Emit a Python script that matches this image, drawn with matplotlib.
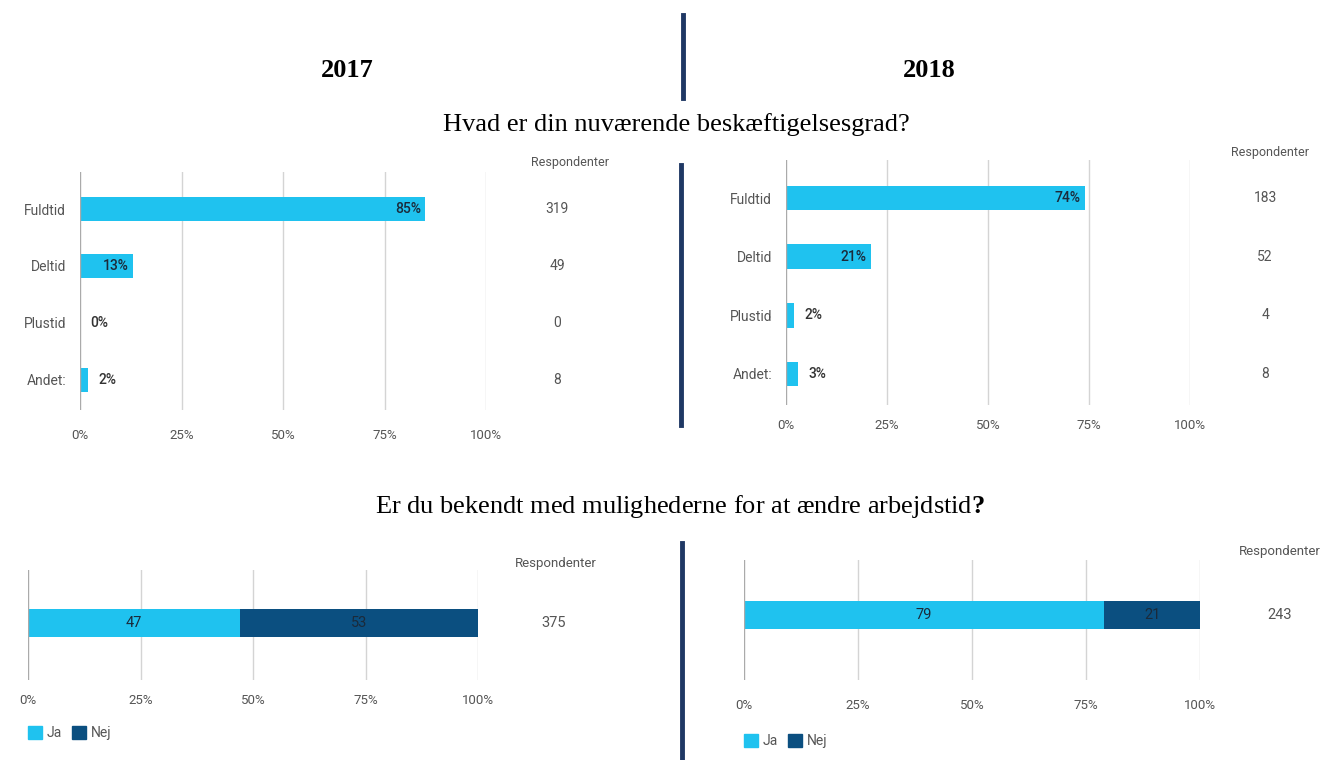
import matplotlib.pyplot as plt
from matplotlib.patches import Patch
from matplotlib.lines import Line2D

W, H = 1342, 760

categories = ['Fuldtid', 'Deltid', 'Plustid', 'Andet:']
pct_2017 = [85, 13, 0, 2]
resp_2017 = [319, 49, 0, 8]
pct_2018 = [74, 21, 2, 3]
resp_2018 = [183, 52, 4, 8]

ja_nej_labels = ['Ja', 'Nej']
ja_nej_2017 = [47, 53]
ja_nej_2018 = [79, 21]
total_2017 = 375
total_2018 = 243

light = '#1fc2ef'
dark = '#0b4f80'
navy = '#1f3864'
grid_c = '#d4d4d4'
txt_c = '#555555'

plt.rcParams['font.family'] = 'Roboto'
plt.rcParams['mathtext.fontset'] = 'custom'
plt.rcParams['mathtext.bf'] = 'Liberation Serif:bold'


def px_axes(fig, x0, y0, x1, y1):
    # pixel box (top-left origin) -> axes
    return fig.add_axes([x0 / W, 1 - y1 / H, (x1 - x0) / W, (y1 - y0) / H])


def style_axes(ax, pad):
    for s in ax.spines.values():
        s.set_visible(False)
    ax.set_xlim(0, 100)
    ax.set_xticks([0, 25, 50, 75, 100])
    ax.set_xticklabels(['0%', '25%', '50%', '75%', '100%'])
    ax.tick_params(axis='x', length=0, pad=pad, labelsize=9.5, labelcolor=txt_c)
    ax.tick_params(axis='y', length=0)
    for xv in [25, 50, 75, 100]:
        ax.axvline(xv, color=grid_c, lw=1, zorder=0)
    ax.axvline(0, color='#aaaaaa', lw=1, zorder=3)


def employment(ax, pct, resp, ylim, head_xy, count_x, pad):
    style_axes(ax, pad)
    y = list(range(len(categories)))
    ax.barh(y, pct, height=0.42, color=light, zorder=2)
    ax.set_ylim(*ylim)
    ax.set_yticks(y)
    ax.set_yticklabels(categories)
    ax.tick_params(axis='y', pad=10, labelsize=10, labelcolor=txt_c)
    for yi, p, r in zip(y, pct, resp):
        if p > 10:
            ax.text(p - 1, yi, f'{p}%', ha='right', va='center', fontsize=10,
                    color='#1b2a3a', fontweight='medium', zorder=4)
        else:
            ax.text(p + 2.5, yi, f'{p}%', ha='left', va='center', fontsize=10,
                    color='#333333', fontweight='medium', zorder=4)
        ax.text(count_x, yi, str(r), ha='center', va='center', fontsize=10,
                color=txt_c, clip_on=False)
    ax.text(head_xy[0], head_xy[1], 'Respondenter', ha='center', va='center',
            fontsize=9, color=txt_c, clip_on=False)


def knowledge(ax, vals, total, ylim, head_xy, count_x, pad, leg_xy):
    style_axes(ax, pad)
    ax.set_ylim(*ylim)
    ax.set_yticks([])
    left = 0
    for v, c in zip(vals, [light, dark]):
        ax.barh(0, v, left=left, height=1.0, color=c, zorder=2)
        ax.text(left + v / 2, 0, str(v), ha='center', va='center', fontsize=10.5,
                color='#1b2a3a', zorder=4)
        left += v
    ax.text(count_x, 0, str(total), ha='center', va='center', fontsize=10.5,
            color=txt_c, clip_on=False)
    ax.text(head_xy[0], head_xy[1], 'Respondenter', ha='center', va='center',
            fontsize=9.5, color=txt_c, clip_on=False)
    handles = [Patch(color=light, label=ja_nej_labels[0]),
               Patch(color=dark, label=ja_nej_labels[1])]
    fig.legend(handles=handles, loc='center left',
               bbox_to_anchor=(leg_xy[0] / W, 1 - leg_xy[1] / H),
               ncol=2, frameon=False, fontsize=10, handlelength=1.0,
               handleheight=1.1, handletextpad=0.35, columnspacing=0.7,
               labelcolor=txt_c, borderaxespad=0, borderpad=0)


fig = plt.figure(figsize=(W / 100, H / 100), dpi=100)

# headers
fig.text(347.5 / W, 1 - 77 / H, '2017', ha='center', va='baseline',
         family='Liberation Serif', fontweight='bold', fontsize=19)
fig.text(929 / W, 1 - 77 / H, '2018', ha='center', va='baseline',
         family='Liberation Serif', fontweight='bold', fontsize=19)
fig.text(676 / W, 1 - 131 / H, 'Hvad er din nuværende beskæftigelsesgrad?',
         ha='center', va='baseline', family='Liberation Serif', fontsize=19)
fig.text(680 / W, 1 - 513 / H,
         'Er du bekendt med mulighederne for at ændre arbejdstid$\\mathbf{?}$',
         ha='center', va='baseline', family='Liberation Serif', fontsize=19)

# divider lines
for (x, y0, y1) in [(683, 15, 98), (681, 165, 425), (682, 543, 760)]:
    fig.add_artist(Line2D([x / W, x / W], [1 - y0 / H, 1 - y1 / H],
                          color=navy, lw=3.5))

ax1 = px_axes(fig, 80, 172, 486, 410)
employment(ax1, pct_2017, resp_2017, (3.53, -0.65), (120.7, -0.81), 117.5, 14)

ax2 = px_axes(fig, 786, 160, 1190, 405)
employment(ax2, pct_2018, resp_2018, (3.53, -0.65), (119.8, -0.78), 118.6, 10)

ax3 = px_axes(fig, 28, 570, 478, 680)
knowledge(ax3, ja_nej_2017, total_2017, (2.04, -1.9), (117.3, -2.14), 116.7, 10, (28, 733))

ax4 = px_axes(fig, 744, 560, 1200, 680)
knowledge(ax4, ja_nej_2018, total_2018, (2.32, -1.96), (117.5, -2.25), 117.5, 14, (744, 741))

fig.savefig('out.png', dpi=100)
